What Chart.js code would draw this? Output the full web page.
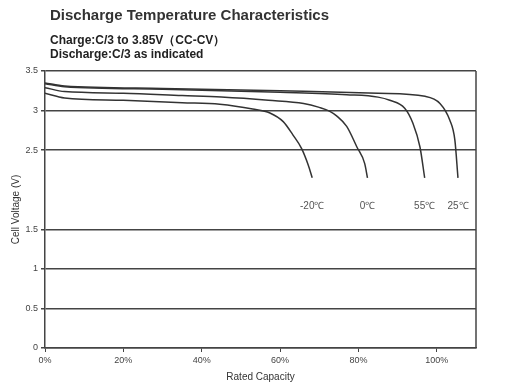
<!DOCTYPE html>
<html>
<head>
<meta charset="utf-8">
<script src="https://cdn.jsdelivr.net/npm/chart.js@4"></script>
<style>
  body { margin: 0; background: #fff; font-family: "Liberation Sans", Arial, sans-serif; }
  #wrap { position: relative; width: 513px; height: 391px; }
  #title { position: absolute; left: 50px; top: 6px; font-size: 15px; font-weight: bold; color: #333; white-space: nowrap; }
  .sub { position: absolute; left: 50px; font-size: 12px; font-weight: bold; color: #222; white-space: nowrap; }
  canvas { position: absolute; left: 0; top: 0; }
</style>
</head>
<body>
<div id="wrap">
  <canvas id="chart" width="513" height="391"></canvas>
  <div id="title">Discharge Temperature Characteristics</div>
  <div class="sub" style="top:32px">Charge:C/3 to 3.85V（CC-CV）</div>
  <div class="sub" style="top:47px">Discharge:C/3 as indicated</div>
</div>
<script>
// curve names (temperatures)
const curveNames = ['-20℃', '0℃', '55℃', '25℃'];

// rated capacity (%) / cell voltage (V)
const capM20 = [0, 5, 20, 35, 44.6, 53, 57.4, 60.8, 63.3, 65.5, 67.2, 68.2];
const voltM20 = [3.22, 3.16, 3.13, 3.10, 3.08, 3.02, 2.97, 2.86, 2.69, 2.52, 2.31, 2.15];

const cap0 = [0, 5, 20, 35, 45, 57, 66, 70, 72.7, 74.5, 77, 79.6, 81.6, 82.3];
const volt0 = [3.29, 3.24, 3.22, 3.19, 3.17, 3.13, 3.09, 3.04, 2.99, 2.93, 2.80, 2.54, 2.33, 2.15];

const cap55 = [0, 5, 30, 60, 77, 85, 88, 91.8, 93.9, 95.7, 96.9];
const volt55 = [3.34, 3.30, 3.27, 3.23, 3.20, 3.17, 3.13, 3.03, 2.84, 2.54, 2.15];

const cap25 = [0, 5, 30, 60, 85, 97, 100.8, 103.3, 104.6, 105.4];
const volt25 = [3.35, 3.31, 3.28, 3.25, 3.22, 3.18, 3.09, 2.88, 2.63, 2.15];

const xTicks = [0, 20, 40, 60, 80, 100];

function pts(xs, ys) {
    return xs.map((x, i) => ({ x: x, y: ys[i] }));
}

const series = [pts(capM20, voltM20), pts(cap0, volt0), pts(cap55, volt55), pts(cap25, volt25)];

// label under the end of each curve
const endLabels = {
    id: 'endLabels',
    afterDatasetsDraw(chart) {
        const ctx = chart.ctx;
        ctx.save();
        ctx.font = '10px "Liberation Sans", Arial, sans-serif';
        ctx.fillStyle = '#555';
        ctx.textAlign = 'center';
        ctx.textBaseline = 'middle';
        chart.data.datasets.forEach((ds, i) => {
            const pts = chart.getDatasetMeta(i).data;
            const last = pts[pts.length - 1];
            ctx.fillText(ds.label, last.x, last.y + 28);
        });
        ctx.restore();
    }
};

// right border of the plot
const rightBorder = {
    id: 'rightBorder',
    afterDraw(chart) {
        const a = chart.chartArea;
        const ctx = chart.ctx;
        ctx.save();
        ctx.strokeStyle = '#444';
        ctx.lineWidth = 1.5;
        ctx.beginPath();
        ctx.moveTo(a.right, a.top);
        ctx.lineTo(a.right, a.bottom);
        ctx.stroke();
        ctx.restore();
    }
};

new Chart(document.getElementById('chart').getContext('2d'), {
    type: 'scatter',
    data: {
        datasets: series.map((d, i) => ({
            label: curveNames[i],
            data: d,
            showLine: true,
            borderColor: '#333',
            borderWidth: 1.5,
            pointRadius: 0,
            cubicInterpolationMode: 'monotone'
        }))
    },
    options: {
        responsive: false,
        animation: false,
        layout: { padding: { left: 0, right: 37, top: 71, bottom: 8 } },
        plugins: { legend: { display: false }, tooltip: { enabled: false } },
        scales: {
            x: {
                type: 'linear',
                min: 0, max: 110,
                afterBuildTicks: s => { s.ticks = xTicks.map(v => ({ value: v })); },
                afterFit: s => { s.height = 35; },
                grid: { drawOnChartArea: false, drawTicks: true, tickLength: 4, color: '#444' },
                border: { color: '#444', width: 1.5 },
                ticks: { color: '#444', padding: 3, font: { size: 9, family: '"Liberation Sans", Arial' }, callback: v => v + '%' },
                title: { display: true, text: 'Rated Capacity', color: '#333', padding: { top: 0, bottom: 0 }, font: { size: 10, family: '"Liberation Sans", Arial' } }
            },
            y: {
                min: 0, max: 3.5,
                afterFit: s => { s.width = 45; },
                ticks: { stepSize: 0.5, color: '#444', padding: 3, font: { size: 9, family: '"Liberation Sans", Arial' },
                    callback: v => v === 2 ? '' : v },
                grid: { color: c => c.tick && c.tick.value === 2 ? 'rgba(0,0,0,0)' : '#444', lineWidth: 1.5, tickLength: 4 },
                border: { color: '#444', width: 1.5 },
                title: { display: true, text: 'Cell Voltage (V)', color: '#333', padding: { top: 10, bottom: 6 }, font: { size: 10, family: '"Liberation Sans", Arial' } }
            }
        }
    },
    plugins: [endLabels, rightBorder]
});
</script>
</body>
</html>
